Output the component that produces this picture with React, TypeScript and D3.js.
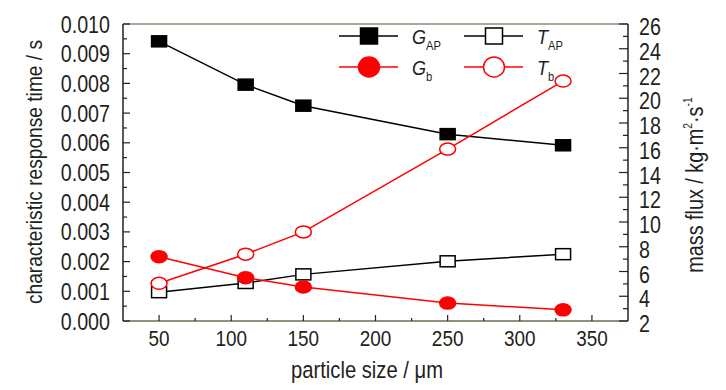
import React from "react";
import * as d3 from "d3";

const particleSize = [50, 110, 150, 250, 330];
// mass flux (right axis), kg·m^-2·s^-1
const G_AP = [24.6, 21.1, 19.4, 17.1, 16.2];
const G_b = [7.2, 5.5, 4.75, 3.45, 2.9];
// characteristic response time (left axis), s
const T_AP = [0.00097, 0.00128, 0.00157, 0.00201, 0.00225];
const T_b = [0.00127, 0.00225, 0.0030, 0.00579, 0.00808];

const xTicks = [50, 100, 150, 200, 250, 300, 350];
const xMinor = [75, 125, 175, 225, 275, 325];
const yLeftTicks = [0, 0.001, 0.002, 0.003, 0.004, 0.005, 0.006, 0.007, 0.008, 0.009, 0.01];
const yRightTicks = [2, 4, 6, 8, 10, 12, 14, 16, 18, 20, 22, 24, 26];

const L = 123, R = 628, T = 24, B = 321;
const FONT = "'Liberation Sans', Arial, sans-serif";

const x = d3.scaleLinear().domain([25, 375]).range([L, R]);
const yL = d3.scaleLinear().domain([0, 0.01]).range([B, T]);
const yR = d3.scaleLinear().domain([2, 26]).range([B, T]);

function SText({ x, y, size, anchor = "start", rotate = 0, sx = 0.86, children, fill = "#231f20" }: any) {
  return (
    <text
      transform={`translate(${x},${y}) rotate(${rotate}) scale(${sx},1)`}
      fontSize={size}
      fontFamily={FONT}
      textAnchor={anchor}
      fill={fill}
    >
      {children}
    </text>
  );
}

function Square({ cx, cy, w, h, filled }: any) {
  return (
    <rect x={cx - w / 2} y={cy - h / 2} width={w} height={h}
      fill={filled ? "#000" : "#fff"} stroke="#000" strokeWidth={1.5} />
  );
}
function Dot({ cx, cy, rx, ry, filled }: any) {
  return (
    <ellipse cx={cx} cy={cy} rx={rx} ry={ry}
      fill={filled ? "#ff0000" : "#fff"} stroke="#ff0000" strokeWidth={1.5} />
  );
}

export default function App() {
  const lineL = d3.line<number>().x((_, i) => x(particleSize[i])).y((d) => yL(d));
  const lineR = d3.line<number>().x((_, i) => x(particleSize[i])).y((d) => yR(d));
  const fmt = d3.format(".3f");
  const yLMinor = d3.range(0.0005, 0.01, 0.001);
  const yRMinor = d3.range(3, 26, 2);

  const legendRows = [
    { y: 36, items: [
      { x: 369, kind: "sq", filled: true, main: "G", sub: "AP" },
      { x: 494, kind: "sq", filled: false, main: "T", sub: "AP" },
    ] },
    { y: 67, items: [
      { x: 369, kind: "dot", filled: true, main: "G", sub: "b" },
      { x: 494, kind: "dot", filled: false, main: "T", sub: "b" },
    ] },
  ];

  return (
    <svg width={726} height={390} style={{ position: "absolute", left: 0, top: 0, background: "#fff" }}>
      <rect x={0} y={0} width={726} height={390} fill="#fff" />
      {/* frame */}
      <line x1={L} x2={R} y1={T} y2={T} stroke="#8c8c78" strokeWidth={1.5} />
      <line x1={L} x2={R} y1={B} y2={B} stroke="#6b6b55" strokeWidth={1.5} />
      <line x1={L} x2={L} y1={T} y2={B} stroke="#222" strokeWidth={1.5} />
      <line x1={R} x2={R} y1={T} y2={B} stroke="#222" strokeWidth={1.5} />

      {/* left ticks */}
      {yLeftTicks.map((t) => (
        <g key={"l" + t}>
          <line x1={L} x2={L + 7} y1={yL(t)} y2={yL(t)} stroke="#222" strokeWidth={1.2} />
          <SText x={110} y={yL(t) + 8.5} size={24} sx={0.82} anchor="end">{fmt(t)}</SText>
        </g>
      ))}
      {yLMinor.map((t) => (
        <line key={"lm" + t} x1={L} x2={L + 4} y1={yL(t)} y2={yL(t)} stroke="#222" strokeWidth={1.2} />
      ))}
      {/* right ticks */}
      {yRightTicks.map((t) => (
        <g key={"r" + t}>
          <line x1={R - 9} x2={R} y1={yR(t)} y2={yR(t)} stroke="#222" strokeWidth={1.2} />
          <SText x={639} y={yR(t) + 11} size={24} sx={0.82} anchor="start">{t}</SText>
        </g>
      ))}
      {yRMinor.map((t) => (
        <line key={"rm" + t} x1={R - 5} x2={R} y1={yR(t)} y2={yR(t)} stroke="#222" strokeWidth={1.2} />
      ))}
      {/* bottom ticks */}
      {xTicks.map((t) => (
        <g key={"x" + t}>
          <line x1={x(t)} x2={x(t)} y1={B} y2={B - 6} stroke="#222" strokeWidth={1.2} />
          <SText x={x(t)} y={346} size={22} anchor="middle">{t}</SText>
        </g>
      ))}
      {xMinor.map((t) => (
        <line key={"xm" + t} x1={x(t)} x2={x(t)} y1={B} y2={B - 3} stroke="#222" strokeWidth={1.2} />
      ))}

      {/* axis titles */}
      <SText x={42} y={172} size={22.3} anchor="middle" rotate={-90}>characteristic response time / s</SText>
      <SText x={367} y={378} size={23.5} anchor="middle">particle size / μm</SText>
      <text transform={`translate(703,185) rotate(-90) scale(0.86,1)`} fontSize={23} fontFamily={FONT}
        textAnchor="middle" fill="#231f20">
        mass flux / kg·m<tspan fontSize={12} dy={-11}>2</tspan><tspan dy={11}>·s</tspan><tspan fontSize={12} dy={-11}>-1</tspan>
      </text>

      {/* lines */}
      <path d={lineR(G_AP) || ""} fill="none" stroke="#000" strokeWidth={1.5} />
      <path d={lineL(T_AP) || ""} fill="none" stroke="#000" strokeWidth={1.5} />
      <path d={lineR(G_b) || ""} fill="none" stroke="#ff0000" strokeWidth={1.5} />
      <path d={lineL(T_b) || ""} fill="none" stroke="#ff0000" strokeWidth={1.5} />

      {/* markers */}
      {G_AP.map((v, i) => <Square key={"ga" + i} cx={x(particleSize[i])} cy={yR(v)} w={15} h={11} filled />)}
      {T_AP.map((v, i) => <Square key={"ta" + i} cx={x(particleSize[i])} cy={yL(v)} w={15} h={11} filled={false} />)}
      {G_b.map((v, i) => <Dot key={"gb" + i} cx={x(particleSize[i])} cy={yR(v)} rx={8} ry={6} filled />)}
      {T_b.map((v, i) => <Dot key={"tb" + i} cx={x(particleSize[i])} cy={yL(v)} rx={8} ry={6} filled={false} />)}

      {/* legend */}
      {legendRows.map((row) =>
        row.items.map((it) => (
          <g key={it.main + it.sub}>
            <line x1={it.x - 30} x2={it.x + 29} y1={row.y} y2={row.y}
              stroke={it.kind === "sq" ? "#000" : "#ff0000"} strokeWidth={1.5} />
            {it.kind === "sq"
              ? <Square cx={it.x} cy={row.y} w={17} h={16} filled={it.filled} />
              : <Dot cx={it.x} cy={row.y} rx={10.5} ry={10} filled={it.filled} />}
            <text transform={`translate(${it.x + 43},${row.y + 8}) scale(0.86,1)`} fontFamily={FONT} fill="#231f20">
              <tspan fontSize={21} fontStyle="italic">{it.main}</tspan>
              <tspan fontSize={13} dy={6}>{it.sub}</tspan>
            </text>
          </g>
        ))
      )}
    </svg>
  );
}
